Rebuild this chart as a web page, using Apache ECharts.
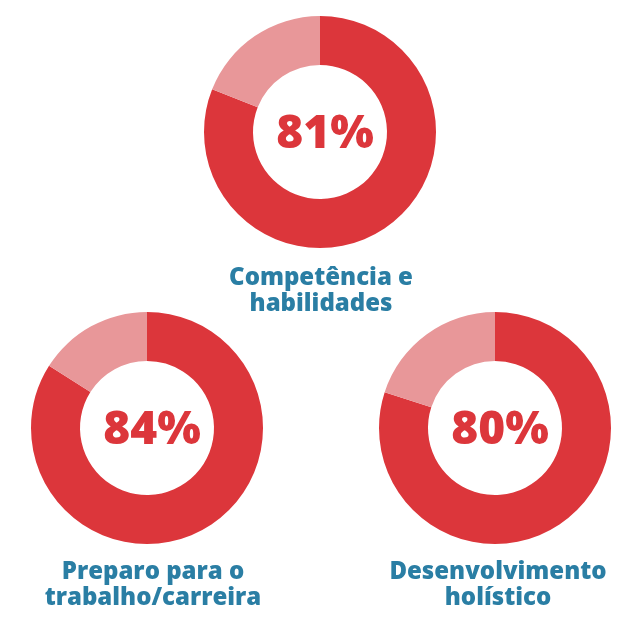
<!DOCTYPE html>
<html><head><meta charset="utf-8">
<script src="https://cdn.jsdelivr.net/npm/echarts@6/dist/echarts.min.js"></script>
<style>html,body{margin:0;padding:0;background:#fff}#c{width:640px;height:640px}</style>
</head><body><div id="c"></div>
<script>
const categories = ["Competência e\nhabilidades", "Preparo para o\ntrabalho/carreira", "Desenvolvimento\nholístico"];
const values = [81, 84, 80];
const valueLabels = ["81%", "84%", "80%"];

const centers = [[320, 132], [147, 428], [495, 428]];
const labelPos = [[316, 286], [148, 580], [493, 580]];
const RED = "#dc363b", LIGHT = "#e89799", TEAL = "#2a7ea4";
const FONT = "Open Sans";

const chart = echarts.init(document.getElementById('c'));
const series = values.map((v, i) => ({
  type: 'pie',
  center: centers[i],
  radius: [67, 116],
  startAngle: 90,
  clockwise: true,
  silent: true,
  animation: false,
  label: { show: false },
  labelLine: { show: false },
  itemStyle: { borderWidth: 0 },
  data: [
    { value: v, name: 'sim', itemStyle: { color: RED } },
    { value: 100 - v, name: 'nao', itemStyle: { color: LIGHT } }
  ]
}));
const titles = [];
values.forEach((v, i) => {
  titles.push({
    text: valueLabels[i], left: centers[i][0], top: centers[i][1] - 2,
    textAlign: 'center', textVerticalAlign: 'middle',
    textStyle: { color: RED, fontSize: 46, fontWeight: 800, fontFamily: FONT }
  });
  titles.push({
    text: categories[i], left: labelPos[i][0], top: labelPos[i][1],
    textAlign: 'center', textVerticalAlign: 'middle',
    textStyle: { color: TEAL, fontSize: 24, fontWeight: 800, fontFamily: FONT, lineHeight: 26 }
  });
});
chart.setOption({ animation: false, title: titles, series: series });
</script></body></html>
